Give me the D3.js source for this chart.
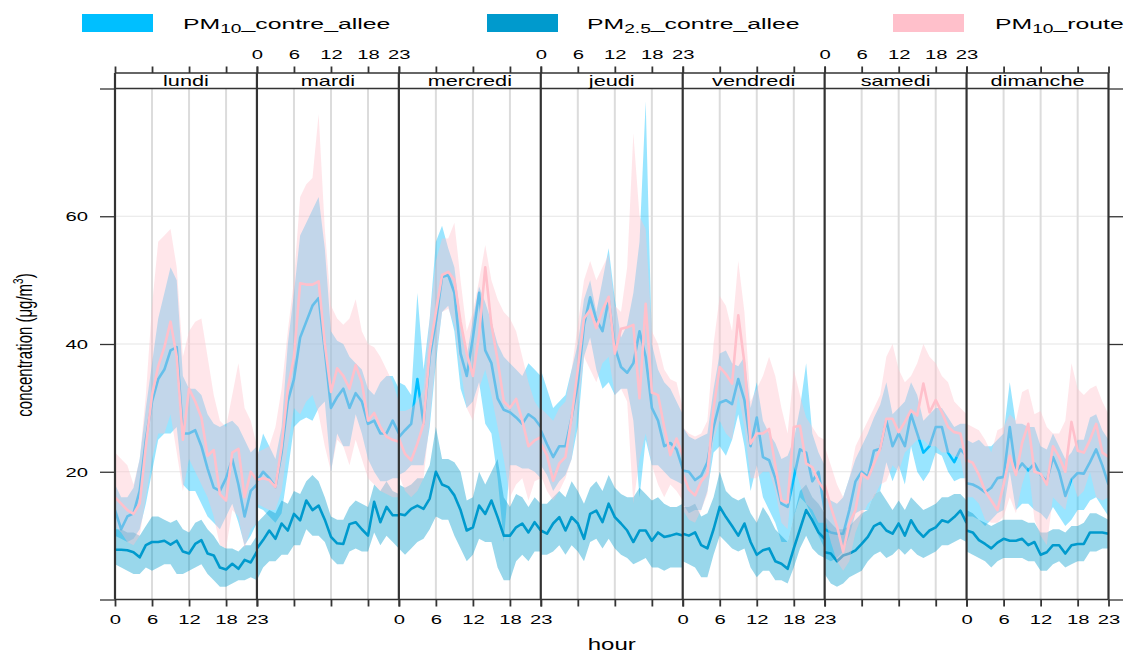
<!DOCTYPE html>
<html><head><meta charset="utf-8">
<script src="https://cdn.jsdelivr.net/npm/d3@7"></script>
<style>
body{margin:0;background:#fff}
svg{display:block}
text{font-family:"Liberation Sans",Arial,Helvetica,sans-serif;fill:#000}
</style>
</head><body>
<svg id="chart" width="1137" height="652"></svg>
<script>
// ---------------- data ----------------
const days = ["lundi","mardi","mercredi","jeudi","vendredi","samedi","dimanche"];
const hours = [0,1,2,3,4,5,6,7,8,9,10,11,12,13,14,15,16,17,18,19,20,21,22,23];
const hourTicks = [0,6,12,18,23];
const yTicks = [0,20,40,60,80];
const yTickLabels = [20,40,60];
const seriesKeys = ["pm10c","pm25","pm10r"];
const seriesColors = ["#00BFFF","#009ACD","#FFC0CB"];

// PM10_contre_allee
const pm10c_mean = [
 [14,11,13,13.5,17,25,31,34.5,36,39,39.5,26,26,26.5,24,20.5,17.5,17,19,22,18,13,17,18],
 [18.5,20,19,17.6,23,31,34.5,41,43.5,46,47.2,39,30,31.7,33,30,32.3,31,27.5,28,26,26,28,26],
 [25.4,26.5,27.5,34.5,27.5,38,43.5,50.5,50.8,48,38.5,35,41,48,39,37,31.5,29.7,29.3,28.5,27.5,29,28.3,27],
 [26.5,24.3,22.3,24,24,28.5,33.8,43,47.3,43.8,42,47,39.5,36.4,35.5,37,42,38,30,28,24,24.5,23.5,20.5],
 [20.2,20,18.7,19.4,21.5,27,30.8,31.2,30.6,34.5,31.2,24,28.5,22.3,21.8,19,15,14.5,19,23.5,23,18.5,20,14],
 [11,10.5,10.3,10.3,14,18.5,20,19.2,23.3,23.6,28,24,26,24,29,26,23,24,27,27,23,21.5,23.5,22.5],
 [18.2,18,17.5,16.8,17.5,19,19.2,27,20,21.3,20.2,21.3,19.5,18.5,22.3,20,16.2,18.8,19.8,19.7,21.5,23.5,21,18]
];
const pm10c_lo = [
 [10,9.5,9,9.5,11,15,20,25,26,26,27,18,17,17,15,13,12,11,13,15,12,8.5,10,12],
 [14.5,14,13,12,13.5,20,27,28,28.5,28,30,31,20,26,24,24,29,26,22,20,18.5,18.5,19,19],
 [19.5,20,21,21,21,27,37,45,46,42,33,30,31,34,27.5,26,19,9,21,21,20.5,20.5,20,19],
 [21,19.5,17,18.5,19.5,22,27,38,41,36,33,34,32,33,33,28,16,25,21,21,20,19,18.5,18],
 [15,13.5,14,14,17,23,24,22.5,25,29,24,17,21,16,14,12,9,9,13,16,15,13,10,8],
 [6.5,6,6.5,7.5,10,13.5,14,14,16.5,17,21.5,18.5,21,18,24,20,18.5,20,23,22.5,20,18.5,19,19],
 [13,13,12.5,11.5,12.5,13.5,14,20,14,15,15,14,13.5,12.5,14.5,13,11.5,12.5,14,14,15.5,16,14.5,13]
];
const pm10c_hi = [
 [18,16,16,17.5,22,30,37,44,48,52,50,35,33,33,32,29,27.5,27,27.5,28,27,25,23,24],
 [22,26,24,22,27,40,48,57,59,61,63,55,42,40.5,40,38,37,36,33,32,34,35,35,33],
 [34,33.5,32,48,36,44,56,58.5,55,52,44,38,44,49,46.5,43.5,40,38,37,36,35,37,36,35],
 [36,33,30,31,32,36,40,47,50,45,50,55,47,41,43,48,56,78,40,36,34,33,31,29],
 [27,25.5,25,25.5,26,33,38.5,39,37,36.5,38,30,34,28,26,24.5,22,22.5,25,30,37,26,23,21],
 [16,15.5,15,16,19,22,24,26,28.5,30.5,34,29,30,31,34,32,28,29,30,30,28.5,27,27.5,27.5],
 [25,24.5,25,24,24,25,26,34,27.5,27.5,27,27,24,23.5,26,24,22,23,25,25,28.5,29,26.5,25]
];

// PM2.5_contre_allee
const pm25_mean = [
 [7.8,7.8,7.7,7.4,6.6,8.5,9,9,9.2,8.6,9.2,7.5,7.2,8.7,9.3,7.2,6.9,5,4.7,5.6,4.8,6.2,5.8,7.5],
 [8,9.3,10.8,9.5,11.9,10.8,13.4,12.4,15.5,14,14.7,12.5,9.8,8.8,8.7,11.8,12.1,11,10,15.3,12.1,14.5,13.2,13.2],
 [13.4,13.2,14.2,14.7,14.2,15.8,20,18,17.6,16.3,14,10.8,11.3,14.7,13.4,15.5,12.9,10,10,11.3,11.9,10.5,12.1,10.8],
 [10.8,10.3,11.9,12.9,10.8,12.9,11.9,9.5,13.4,13.9,12.1,15,12.9,11.9,10.8,9,10.8,10.8,9.2,10.5,9.8,10,10.3,10],
 [10.3,10,10.5,8.5,8,11,14.5,12.9,11.5,10,11.9,9,7,7.7,8,6,5.6,4.8,8,11,14,12.4,10.5,9.5],
 [7.4,7.2,6,6.9,7.2,7.7,8.7,9.8,11.5,12,10.8,10.3,11.9,10,12.4,10.8,9.8,10.8,11.3,12.4,12.1,12.9,13.9,12],
 [10.8,10.5,9.3,8.7,8,8.9,9.5,9.2,9.2,9.5,8.5,9,7,7.4,8.5,8.5,7.2,8.5,8.7,8.7,10.5,10.5,10.5,10.3]
];
const pm25_lo = [
 [5.5,5,4.5,4,4,5,4.5,5,5.5,5.5,4,4,4.5,5,5.5,4,3,2,2,2.5,3,3,3.5,3],
 [3,5,6,6,7,7,8.5,8.5,11,10,10,9,6.5,5.5,5.5,7.5,8,7.5,7.5,10.5,8.5,10,9,8],
 [8,7,8,9,9.5,11,13,12.5,12.5,10,8,6,7,9.5,9,9,5,3,3,6,7,6,7.5,7.5],
 [7,7,7.5,8.5,7,8.5,7.5,6,9,9.5,8,9.5,8,7,6.5,5.5,6,6.5,5,5,4.5,5,5,5],
 [6,5.5,5,3.5,3.5,7,10,9,8,7.5,8,5,3.5,4.5,4.5,3,3,2.5,5,8,10,8,7,6.5],
 [4,2.5,2,2.5,3.5,4,4.5,6,7,7.5,6.5,7,8,7,8,7,6.5,7,7.5,8.5,8.5,9,9.5,9],
 [7.5,7,6.5,6,5,6,6.5,6.5,6.5,6.5,6,6,4.5,4.5,5.5,6,5,5.5,6,6,7.5,7.5,8,8]
];
const pm25_hi = [
 [11,11,10.5,10.5,10,11.5,13,13,12.5,12,12.5,11,10.5,12,12.5,11,10,8.5,8,8,7.5,8.5,8.5,10],
 [12,13,14,13.5,15.5,15,17,16.5,18.5,19.5,18.5,16,13,12.5,12.5,14.5,15.5,15,14.5,18,17,18.5,17,16.5],
 [18,17.5,18,19,19,21,27,22,22,21.5,20,15.5,16,20,18,20,22,16,14.5,16.5,16,14.5,16,15],
 [15,15,16,17,16,18.5,17,15,17.5,18.5,17,19.5,17.5,16.5,16,16,17.5,16.5,15.5,16,15,14.5,14.5,15],
 [14.5,14.5,15,13,13.5,16,20,17,16,15.5,16,13.5,12,14.5,13,11,10,9,13,17,18,16,15,13.5],
 [13,12,11,11,11.5,12.5,13.5,14,16.5,17,15.5,14,15.5,14,16,15,14,14.5,15,16,16,16.5,16.5,15.5],
 [14,13.5,12.5,12,11.5,12,12.5,12.5,12.5,12.5,12,12,10.5,10.5,11,11,10.5,11.5,11.5,12,13.5,13.5,13,12.5]
];

// PM10_route
const pm10r_mean = [
 [16,15,14,13.4,15,24,32,36.5,39.5,43.5,38,25,33,31,28.5,22.5,23.4,16.5,15.5,23,23.6,16,20,18.7],
 [18.7,19,18.7,17.6,24,33,38,49.5,49.3,49.3,49.8,40,32.5,36.2,35,33,36.7,34,28,29.2,27,25.5,25,24.7],
 [25.2,22.8,21.8,24.4,27.5,39,45,50.8,51.3,50,43.5,38.5,35,41.5,52,43,37.5,31,30,31.4,28,24,24.9,25.4],
 [24.4,22.6,18.6,21.3,22.3,28.5,36,44,45.3,42.5,45.3,47.4,38.5,42.4,42.6,43,31.5,46.3,32.4,32,27,22.6,25.2,22.6],
 [19.7,17.2,16.3,18.5,19.7,30,36.4,35.3,33.8,44.5,37,24.4,26,26,26.7,21,15.5,15.2,27,27.2,21.3,20.7,18.5,17],
 [18,14.5,11.5,7.5,11.9,14,19.7,18.9,21.3,23.6,28.3,28.3,26.2,27.8,29.6,28.8,33.8,29.3,31.2,29.3,27,26.2,26,21.5],
 [21.8,21.4,19.5,17,15.5,14,18,22.5,19.5,24.5,27.5,20,19.7,18,24,22.3,20,27.8,23.3,23,25,27.5,23,22.3]
];
const pm10r_lo = [
 [11.5,10.5,9,8.5,10,16,22,26,26,29,23,17,22,20,18,16,13,8.5,8,14,13,8,11,12],
 [15,14.5,14,14,17,24,30,29,31,32,29,24,20,25,24,21,25,22,19,18,17,16.5,16,16],
 [19.5,17,16,17,19,28,38,45,45.5,43,36,30,28,33,36,32,27,22,16,18,19,15.5,18.5,19],
 [19.5,17,15.5,17,19,22,30,38,36,34,37,38,32,33,31,15,22,26,21,18,16,18,17,15.5],
 [14,12.5,12,14,16.5,25,28,26,25,32,27,19,19,20,20,17,12,11,21,18,15,14,12,12],
 [13,9,6,4.5,6,10.5,13,15,16,18,18.5,21,20,23,24,25,25,24,24,23,23,22.5,22,17],
 [16,16,15,12.5,12,12,13,16,13.5,18,21,12.5,10,8.5,16,15,14,19,16,17,20,16,15.5,16]
];
const pm10r_hi = [
 [23,22,21,18,22,32,46,56,57,58,52,38,42,43.5,44,38,32,28,27,32,37,30,28,24],
 [23,23.5,24,27,33,42,50,63,65,66,76,58,46,44,43,44,47,42,40,39.5,38,36,34,31],
 [29.5,29.5,30,31,33,44,53,56.5,56.5,59,50,42,45,50,55.5,50,47,45,44,42,38,34,31,29.5],
 [30,29,28,30,31,36,43,50,53,50,52,54,46,45,52,73,60,58,42,40,36,34.5,34,30],
 [27,26,25.5,26,28,40,47.5,46,42,53,45,31,33,35,38,35,30,26,36,32,28.5,27,25.5,25],
 [24,21,18,16,19,24,26,28,30,32,38,40,36,34,35,37,40,38,37,35,34,31,30,29],
 [27.5,27,26.5,25,23,26.5,27,29,28,32.5,33,29,29.5,27,26,26,28,37,33,32,33,33.5,31,29]
];

const seriesData = {
  pm10c: {mean: pm10c_mean, lo: pm10c_lo, hi: pm10c_hi},
  pm25:  {mean: pm25_mean,  lo: pm25_lo,  hi: pm25_hi},
  pm10r: {mean: pm10r_mean, lo: pm10r_lo, hi: pm10r_hi}
};

// ---------------- layout ----------------
const W = 1137, H = 652;
const plotL = 115, plotR = 1108.5, plotT = 88.5, plotB = 599.5, stripT = 73;
const pw = (plotR - plotL) / days.length;
const SX = 1.5;           // horizontal stretch of text (as in the reference)
const frameColor = "#333";

const svg = d3.select("#chart");
const y = d3.scaleLinear().domain([0, 80]).range([plotB, plotT]);
const xs = days.map((d, i) => d3.scaleLinear().domain([0, 23]).range([plotL + i * pw, plotL + (i + 1) * pw]));

const defs = svg.append("defs");
days.forEach((d, i) => {
  defs.append("clipPath").attr("id", "clip" + i)
    .append("rect").attr("x", plotL + i * pw).attr("y", plotT).attr("width", pw).attr("height", plotB - plotT);
});

// grid
const grid = svg.append("g");
yTickLabels.forEach(v => {
  grid.append("line").attr("x1", plotL).attr("x2", plotR).attr("y1", y(v)).attr("y2", y(v))
    .attr("stroke", "#e6e6e6").attr("stroke-width", 1.2);
});
days.forEach((d, i) => {
  [6, 12, 18].forEach(h => {
    grid.append("line").attr("x1", xs[i](h)).attr("x2", xs[i](h)).attr("y1", plotT).attr("y2", plotB)
      .attr("stroke", "#dcdcdc").attr("stroke-width", 2);
  });
});

// series
days.forEach((d, i) => {
  const g = svg.append("g").attr("clip-path", `url(#clip${i})`);
  const x = xs[i];
  seriesKeys.forEach((k, si) => {
    const s = seriesData[k];
    const rows = hours.map((h, j) => ({h, m: s.mean[i][j], lo: s.lo[i][j], hi: s.hi[i][j]}));
    const area = d3.area().x(r => x(r.h)).y0(r => y(r.lo)).y1(r => y(r.hi));
    const line = d3.line().x(r => x(r.h)).y(r => y(r.m));
    g.append("path").attr("d", area(rows)).attr("fill", seriesColors[si]).attr("fill-opacity", 0.4).attr("stroke", "none");
    g.append("path").attr("d", line(rows)).attr("fill", "none").attr("stroke", seriesColors[si])
      .attr("stroke-width", 2.6).attr("stroke-linejoin", "round");
  });
});

// frame
const frame = svg.append("g");
frame.append("line").attr("x1", plotL).attr("x2", plotR).attr("y1", plotT).attr("y2", plotT).attr("stroke", frameColor).attr("stroke-width", 1.3);
frame.append("line").attr("x1", plotL).attr("x2", plotR).attr("y1", stripT).attr("y2", stripT).attr("stroke", frameColor).attr("stroke-width", 1.3);
frame.append("line").attr("x1", plotL).attr("x2", plotR).attr("y1", plotB).attr("y2", plotB).attr("stroke", frameColor).attr("stroke-width", 1.3);
for (let i = 0; i <= days.length; i++) {
  const xx = plotL + i * pw;
  frame.append("line").attr("x1", xx).attr("x2", xx).attr("y1", stripT).attr("y2", plotB)
    .attr("stroke", frameColor).attr("stroke-width", 2.2);
}
// strip labels
days.forEach((d, i) => {
  svg.append("text").attr("text-anchor", "middle").attr("font-size", 14)
    .attr("transform", `translate(${plotL + (i + 0.5) * pw},86) scale(1.55,1)`).text(d);
});

// axes
function styleTicks(g, w) {
  g.select(".domain").remove();
  g.selectAll(".tick line").attr("stroke", frameColor).attr("stroke-width", w);
  g.attr("font-family", null).attr("font-size", 13.5);
}
days.forEach((d, i) => {
  const gb = svg.append("g").attr("transform", `translate(0,${plotB})`)
    .call(d3.axisBottom(xs[i]).tickValues(hourTicks).tickSize(7).tickSizeOuter(0));
  styleTicks(gb, 1.8);
  if (i % 2 === 0) {
    gb.selectAll(".tick text").attr("y", 25).attr("dy", null).attr("transform", `scale(${SX},1)`).attr("fill", "#000");
  } else gb.selectAll(".tick text").remove();

  const gt = svg.append("g").attr("transform", `translate(0,${stripT})`)
    .call(d3.axisTop(xs[i]).tickValues(hourTicks).tickSize(6.5).tickSizeOuter(0));
  styleTicks(gt, 1.8);
  if (i % 2 === 1) {
    gt.selectAll(".tick text").attr("y", -14).attr("dy", null).attr("transform", `scale(${SX},1)`).attr("fill", "#000");
  } else gt.selectAll(".tick text").remove();
});
const gl = svg.append("g").attr("transform", `translate(${plotL},0)`)
  .call(d3.axisLeft(y).tickValues(yTicks).tickSize(15).tickSizeOuter(0));
styleTicks(gl, 1.3);
gl.selectAll(".tick text").each(function(v) {
  if (!yTickLabels.includes(v)) d3.select(this).remove();
}).attr("x", -27 / SX).attr("transform", `scale(${SX},1)`).attr("fill", "#000");
const gr = svg.append("g").attr("transform", `translate(${plotR},0)`)
  .call(d3.axisRight(y).tickValues(yTicks).tickSize(14.5).tickSizeOuter(0));
styleTicks(gr, 1.3);
gr.selectAll(".tick text").remove();

// axis titles
svg.append("text").attr("text-anchor", "middle").attr("font-size", 16)
  .attr("transform", `translate(${(plotL + plotR) / 2},650) scale(${SX},1)`).text("hour");
const yl = svg.append("text").attr("text-anchor", "middle").attr("font-size", 15)
  .attr("transform", `translate(32,345) scale(${SX},1) rotate(-90)`);
yl.append("tspan").text("concentration (μg/m");
yl.append("tspan").attr("font-size", 10).attr("dy", -6).text("3");
yl.append("tspan").attr("dy", 6).text(")");

// legend
const legendItems = [
  {main: "PM", sub: "10", rest: "_contre_allee"},
  {main: "PM", sub: "2.5", rest: "_contre_allee"},
  {main: "PM", sub: "10", rest: "_route"}
];
const legRectX = [82, 487, 893], legTextX = [183, 587, 995];
legendItems.forEach((it, i) => {
  svg.append("rect").attr("x", legRectX[i]).attr("y", 14).attr("width", 71).attr("height", 18)
    .attr("fill", seriesColors[i]);
  const t = svg.append("text").attr("font-size", 15.5)
    .attr("transform", `translate(${legTextX[i]},29) scale(1.6,1)`);
  t.append("tspan").text(it.main);
  t.append("tspan").attr("font-size", 12).attr("dy", 4).text(it.sub);
  t.append("tspan").attr("dy", -4).text(it.rest);
});
</script>
</body></html>
